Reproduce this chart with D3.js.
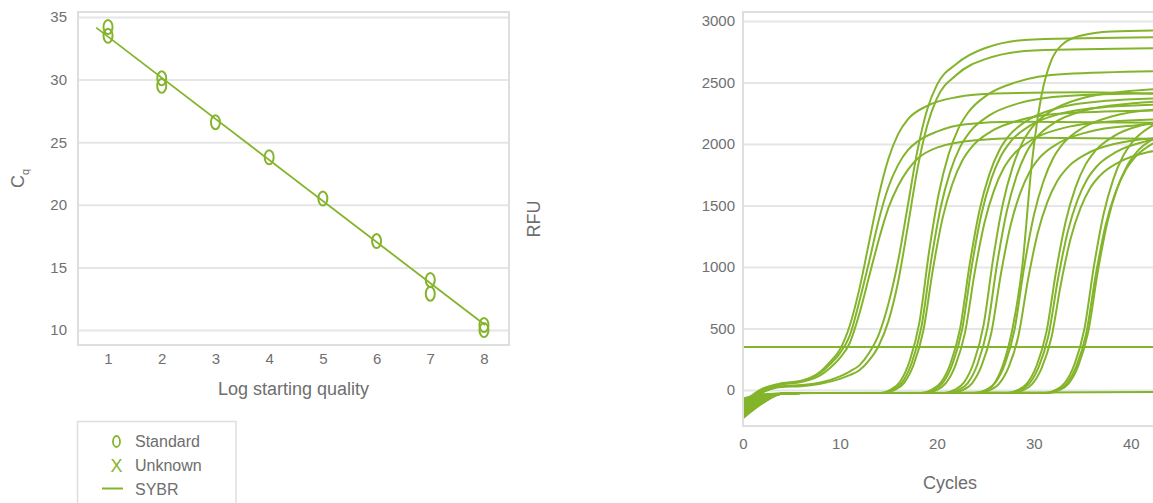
<!DOCTYPE html>
<html>
<head>
<meta charset="utf-8">
<script src="https://cdn.jsdelivr.net/npm/d3@7"></script>
<style>
  body { margin: 0; background: #fff; }
  svg { display: block; font-family: "Liberation Sans", Arial, sans-serif; }
  .tick text { fill: #707070; font-size: 15px; font-family: "Liberation Sans", Arial, sans-serif; }
  .grid line { stroke: #e6e6e6; stroke-width: 2; }
  .axis-title { fill: #6e6e6e; font-size: 18px; }
  .legend-text { fill: #6e6e6e; font-size: 16px; }
</style>
</head>
<body>
<div id="chart"></div>
<script>
// ---- standard curve (left) ----
const stdLog = [1, 1, 2, 2, 3, 4, 5, 6, 7, 7, 8, 8];
const stdCq = [34.2, 33.5, 30.1, 29.5, 26.6, 23.8, 20.5, 17.1, 14.0, 12.9, 10.4, 10.0];
const fitLog = [0.78, 8.02];
const fitCq = [34.15, 10.4];
const logTicks = [1, 2, 3, 4, 5, 6, 7, 8];
const cqTicks = [10, 15, 20, 25, 30, 35];

// ---- amplification curves (right) : [cycle, RFU] ----
const groupA = [
  [[0,-100],[2,10],[4,55],[6,75],[8,150],[9,230],[10,330],[11,520],[12,820],[13,1200],[14,1580],[15,1880],[16,2080],[17,2200],[19,2310],[22,2380],[26,2410],[35,2420],[45,2400]],
  [[0,-130],[2,0],[4,50],[6,70],[8,140],[9,210],[10,300],[11,440],[12,720],[13,1040],[14,1380],[15,1650],[16,1830],[17,1950],[18,2020],[20,2100],[23,2160],[28,2180],[45,2170]],
  [[0,-160],[2,-10],[4,45],[6,65],[8,120],[9,180],[10,260],[11,380],[12,620],[13,920],[14,1220],[15,1480],[16,1660],[17,1790],[18,1880],[20,1970],[24,2030],[30,2050],[45,2040]]
];
const groupB = [
  [[0,-120],[2,-20],[4,30],[6,40],[8,60],[10,110],[11,150],[12,200],[13,300],[14,450],[15,700],[16,1050],[17,1500],[18,1950],[19,2280],[20,2480],[22,2650],[25,2780],[30,2850],[45,2870]],
  [[0,-140],[2,-20],[4,25],[6,30],[8,50],[10,90],[11,120],[12,160],[13,240],[14,360],[15,560],[16,880],[17,1330],[18,1800],[19,2150],[20,2370],[22,2560],[25,2690],[30,2760],[45,2780]]
];
const groupC = [
  [[0,-90],[2,-45],[4,-30],[6,-25],[14.2,-24],[15.2,1],[16.2,67],[17.2,237],[18.2,551],[19.2,1128],[20.2,1599],[21.2,1914],[22.2,2123],[23.2,2254],[25.2,2399],[28.2,2503],[33.2,2569],[45,2595]],
  [[0,-200],[2,-95],[4,-30],[6,-25],[14.4,-24],[15.4,-1],[16.4,60],[17.4,219],[18.4,512],[19.4,1049],[20.4,1488],[21.4,1781],[22.4,1976],[23.4,2098],[25.4,2232],[28.4,2330],[33.4,2391],[45,2415]],
  [[0,-120],[2,-60],[4,-30],[6,-25],[14.6,-24],[15.6,-2],[16.6,56],[17.6,205],[18.6,481],[19.6,987],[20.6,1401],[21.6,1677],[22.6,1861],[23.6,1976],[25.6,2103],[28.6,2195],[33.6,2252],[45,2275]]
];
const groupD = [
  [[0,-230],[2,-110],[4,-30],[6,-25],[18.4,-24],[19.4,-1],[20.4,59],[21.4,215],[22.4,503],[23.4,1031],[24.4,1463],[25.4,1751],[26.4,1943],[27.4,2063],[29.4,2195],[32.4,2291],[37.4,2351],[45,2375]],
  [[0,-80],[2,-40],[4,-30],[6,-25],[18.6,-24],[19.6,-2],[20.6,57],[21.6,210],[22.6,492],[23.6,1009],[24.6,1432],[25.6,1714],[26.6,1902],[27.6,2020],[29.6,2149],[32.6,2243],[37.6,2302],[45,2325]],
  [[0,-170],[2,-80],[4,-30],[6,-25],[18.9,-24],[19.9,-3],[20.9,53],[21.9,198],[22.9,466],[23.9,956],[24.9,1358],[25.9,1625],[26.9,1804],[27.9,1915],[29.9,2038],[32.9,2127],[37.9,2183],[45,2205]]
];
const groupE = [
  [[0,-140],[2,-65],[4,-30],[6,-25],[20.8,-24],[21.8,0],[22.8,62],[23.8,223],[24.8,521],[25.8,1066],[26.8,1513],[27.8,1810],[28.8,2009],[29.8,2133],[31.8,2269],[34.8,2368],[39.8,2430],[45,2455]],
  [[0,-210],[2,-100],[4,-30],[6,-25],[21.2,-24],[22.2,-1],[23.2,58],[24.2,213],[25.2,499],[26.2,1022],[27.2,1451],[28.2,1736],[29.2,1927],[30.2,2046],[32.2,2177],[35.2,2272],[40.2,2331],[45,2355]],
  [[0,-100],[2,-50],[4,-30],[6,-25],[21.6,-24],[22.6,-3],[23.6,52],[24.6,195],[25.6,459],[26.6,943],[27.6,1339],[28.6,1603],[29.6,1779],[30.6,1889],[32.6,2010],[35.6,2098],[40.6,2153],[45,2175]]
];
const groupF = [
  [[0,-180],[2,-85],[4,-30],[6,-25],[23.8,-24],[24.8,-10],[25.8,40],[26.8,200],[27.8,500],[28.8,1000],[29.8,1850],[30.8,2400],[31.8,2680],[32.8,2800],[34.8,2880],[38,2915],[45,2925]],
  [[0,-70],[2,-35],[4,-30],[6,-25],[24,-24],[25,-2],[26,57],[27,208],[28,488],[29,1000],[30,1420],[31,1699],[32,1886],[33,2002],[35,2130],[38,2223],[43,2282],[45,2290]],
  [[0,-160],[2,-75],[4,-30],[6,-25],[24.4,-24],[25.4,-4],[26.4,49],[27.4,185],[28.4,437],[29.4,899],[30.4,1277],[31.4,1529],[32.4,1697],[33.4,1802],[35.4,1918],[38.4,2002],[43.4,2054],[45,2060]]
];
const groupG = [
  [[0,-220],[2,-105],[4,-30],[6,-25],[27.3,-24],[28.3,-2],[29.3,54],[30.3,201],[31.3,472],[32.3,969],[33.3,1376],[34.3,1647],[35.3,1828],[36.3,1941],[38.3,2066],[41.3,2156],[45,2200]],
  [[0,-110],[2,-55],[4,-30],[6,-25],[27.5,-24],[28.5,-4],[29.5,49],[30.5,187],[31.5,441],[32.5,908],[33.5,1289],[34.5,1544],[35.5,1713],[36.5,1819],[38.5,1936],[41.5,2021],[45,2060]],
  [[0,-190],[2,-90],[4,-30],[6,-25],[27.8,-24],[28.8,-5],[29.8,46],[30.8,178],[31.8,422],[32.8,868],[33.8,1234],[34.8,1477],[35.8,1640],[36.8,1741],[38.8,1853],[41.8,1934],[45,1965]]
];
const groupH = [
  [[0,-130],[2,-60],[4,-30],[6,-25],[31.2,-24],[32.2,-2],[33.2,57],[34.2,210],[35.2,492],[36.2,1009],[37.2,1432],[38.2,1714],[39.2,1902],[40.2,2020],[42.2,2149],[45,2240]],
  [[0,-100],[2,-50],[4,-30],[6,-25],[31.4,-24],[32.4,-3],[33.4,52],[34.4,195],[35.4,459],[36.4,943],[37.4,1339],[38.4,1603],[39.4,1779],[40.4,1889],[42.4,2010],[45,2100]],
  [[0,-150],[2,-70],[4,-30],[6,-25],[31.6,-24],[32.6,-2],[33.6,54],[34.6,200],[35.6,470],[36.6,965],[37.6,1370],[38.6,1640],[39.6,1820],[40.6,1933],[42.6,2056],[45,2150]]
];
const negControl = [[0,-160],[2,-70],[4,-30],[8,-25],[20,-22],[30,-20],[45,-15]];
const thresholdRFU = 350;
const cycleTicks = [0, 10, 20, 30, 40];
const rfuTicks = [0, 500, 1000, 1500, 2000, 2500, 3000];

const legendItems = ["Standard", "Unknown", "SYBR"];

const green = "#84b42b";
const frameColor = "#dedede";
const plain = d3.format("d");

const width = 1153, height = 503;
const svg = d3.select("#chart").append("svg")
  .attr("width", width)
  .attr("height", height);

// ================= left panel =================
const L = { left: 78, right: 509, top: 12, bottom: 345 };
const xL = d3.scaleLinear().domain([0.441, 8.466]).range([L.left, L.right]);
const yL = d3.scaleLinear().domain([8.8, 35.4]).range([L.bottom, L.top]);

// gridlines
svg.append("g")
  .attr("class", "grid")
  .attr("transform", `translate(${L.left},0)`)
  .call(d3.axisLeft(yL).tickValues(cqTicks).tickSize(-(L.right - L.left)).tickFormat(""))
  .call(g => g.select(".domain").remove());

svg.append("rect")
  .attr("x", L.left).attr("y", L.top)
  .attr("width", L.right - L.left).attr("height", L.bottom - L.top)
  .attr("fill", "none").attr("stroke", frameColor).attr("stroke-width", 2);

// axes labels
svg.append("g")
  .attr("transform", `translate(${L.left},0)`)
  .call(d3.axisLeft(yL).tickValues(cqTicks).tickFormat(plain).tickSize(0).tickPadding(11))
  .call(g => g.select(".domain").remove());

svg.append("g")
  .attr("transform", `translate(0,${L.bottom})`)
  .call(d3.axisBottom(xL).tickValues(logTicks).tickFormat(plain).tickSize(0).tickPadding(8))
  .call(g => g.select(".domain").remove());

// fit line
svg.append("line")
  .attr("x1", xL(fitLog[0])).attr("y1", yL(fitCq[0]))
  .attr("x2", xL(fitLog[1])).attr("y2", yL(fitCq[1]))
  .attr("stroke", green).attr("stroke-width", 1.8);

// standards
svg.append("g")
  .selectAll("ellipse")
  .data(stdLog.map((d, i) => ({ log: d, cq: stdCq[i] })))
  .join("ellipse")
  .attr("cx", d => xL(d.log))
  .attr("cy", d => yL(d.cq))
  .attr("rx", 4.5).attr("ry", 7)
  .attr("fill", "none").attr("stroke", green).attr("stroke-width", 2);

// titles
svg.append("text")
  .attr("class", "axis-title")
  .attr("x", (L.left + L.right) / 2).attr("y", 395)
  .attr("text-anchor", "middle")
  .text("Log starting quality");

const cqTitle = svg.append("text")
  .attr("class", "axis-title")
  .attr("transform", `translate(23.5,${(L.top + L.bottom) / 2}) rotate(-90)`)
  .attr("text-anchor", "middle");
cqTitle.append("tspan").text("C");
cqTitle.append("tspan").attr("dy", 5).attr("font-size", 11).text("q");

// legend
const legend = svg.append("g");
legend.append("rect")
  .attr("x", 77.5).attr("y", 421.5).attr("width", 158.5).attr("height", 100)
  .attr("fill", "none").attr("stroke", frameColor).attr("stroke-width", 1.5);

legendItems.forEach((name, i) => {
  const yy = 441.5 + i * 24;
  if (name === "Standard") {
    legend.append("ellipse")
      .attr("cx", 116.5).attr("cy", yy).attr("rx", 3.5).attr("ry", 5.5)
      .attr("fill", "none").attr("stroke", green).attr("stroke-width", 1.8);
  } else if (name === "Unknown") {
    legend.append("text")
      .attr("x", 116.5).attr("y", yy + 6.5)
      .attr("text-anchor", "middle")
      .attr("fill", green).attr("font-size", 18)
      .text("X");
  } else {
    legend.append("line")
      .attr("x1", 102).attr("x2", 123).attr("y1", yy - 1).attr("y2", yy - 1)
      .attr("stroke", green).attr("stroke-width", 2);
  }
  legend.append("text")
    .attr("class", "legend-text")
    .attr("x", 135).attr("y", yy + 5.5)
    .text(name);
});

// ================= right panel =================
const R = { left: 743, right: 1157, top: 12, bottom: 426 };
const xR = d3.scaleLinear().domain([0, 42.7]).range([R.left, R.right]);
const yR = d3.scaleLinear().domain([-293, 3073]).range([R.bottom, R.top]);

svg.append("g")
  .attr("class", "grid")
  .attr("transform", `translate(${R.left},0)`)
  .call(d3.axisLeft(yR).tickValues(rfuTicks).tickSize(-(R.right - R.left)).tickFormat(""))
  .call(g => g.select(".domain").remove());

svg.append("rect")
  .attr("x", R.left).attr("y", R.top)
  .attr("width", R.right - R.left).attr("height", R.bottom - R.top)
  .attr("fill", "none").attr("stroke", frameColor).attr("stroke-width", 2);

svg.append("g")
  .attr("transform", `translate(${R.left},0)`)
  .call(d3.axisLeft(yR).tickValues(rfuTicks).tickFormat(plain).tickSize(0).tickPadding(8))
  .call(g => g.select(".domain").remove());

svg.append("g")
  .attr("transform", `translate(0,${R.bottom})`)
  .call(d3.axisBottom(xR).tickValues(cycleTicks).tickFormat(plain).tickSize(0).tickPadding(12))
  .call(g => g.select(".domain").remove());

svg.append("defs").append("clipPath").attr("id", "clipR")
  .append("rect")
  .attr("x", R.left + 1).attr("y", R.top + 1)
  .attr("width", R.right - R.left - 2).attr("height", R.bottom - R.top - 2);

const plot = svg.append("g").attr("clip-path", "url(#clipR)");

const line = d3.line()
  .x(d => xR(d[0]))
  .y(d => yR(d[1]))
  .curve(d3.curveMonotoneX);

const allCurves = [negControl].concat(groupA, groupB, groupC, groupD, groupE, groupF, groupG, groupH);

plot.append("line")
  .attr("x1", R.left).attr("x2", R.right)
  .attr("y1", yR(thresholdRFU)).attr("y2", yR(thresholdRFU))
  .attr("stroke", green).attr("stroke-width", 2);

plot.selectAll("path.curve")
  .data(allCurves)
  .join("path")
  .attr("class", "curve")
  .attr("d", line)
  .attr("fill", "none")
  .attr("stroke", green)
  .attr("stroke-width", 2);

svg.append("text")
  .attr("class", "axis-title")
  .attr("x", (R.left + R.right) / 2).attr("y", 489)
  .attr("text-anchor", "middle")
  .text("Cycles");

svg.append("text")
  .attr("class", "axis-title")
  .attr("transform", `translate(540,${(R.top + R.bottom) / 2}) rotate(-90)`)
  .attr("text-anchor", "middle")
  .text("RFU");
</script>
</body>
</html>
